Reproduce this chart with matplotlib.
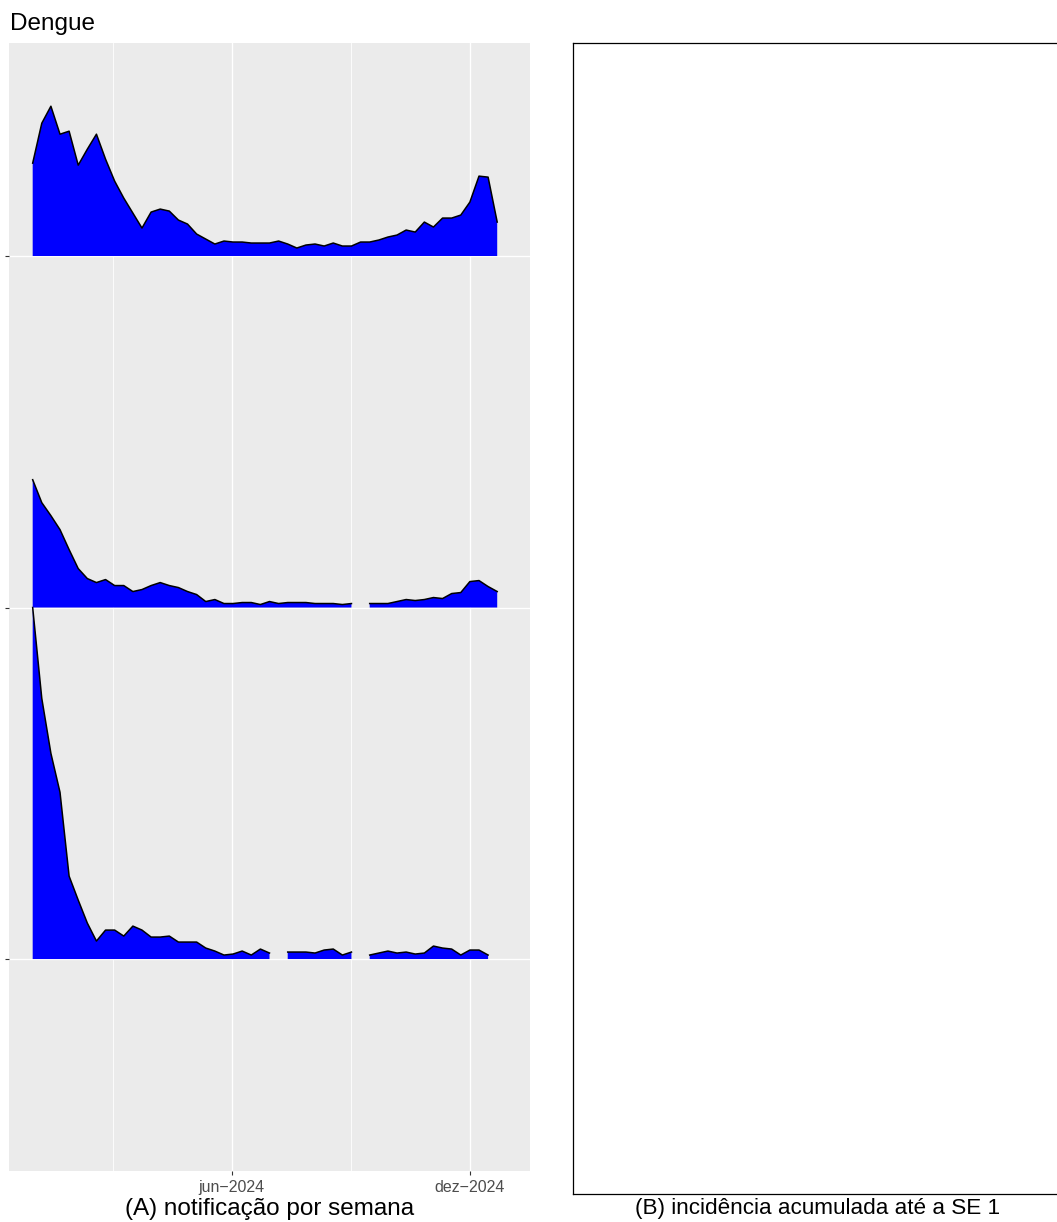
import numpy as np
import pandas as pd
import matplotlib
matplotlib.use("Agg")
import matplotlib.pyplot as plt

plt.rcParams['font.family'] = ['Liberation Sans', 'DejaVu Sans']

nan = np.nan

# semanas epidemiologicas 2024 (inicio no domingo)
semanas = pd.date_range("2023-12-31", periods=53, freq="7D")

# notificacoes por semana (escala relativa)
grupo_3 = [93, 133, 150, 122, 125, 91, 107, 122, 97, 75,
           58, 43, 28, 44, 47, 45, 36, 32, 22, 17,
           12, 15, 14, 14, 13, 13, 13, 15, 12, 8,
           11, 12, 10, 13, 10, 10, 14, 14, 16, 19,
           21, 26, 24, 34, 29, 38, 38, 41, 54, 80,
           79, 34, nan]
grupo_2 = [128, 105, 92, 78, 58, 39, 29, 25, 28, 22,
           22, 16, 18, 22, 25, 22, 20, 16, 13, 6,
           8, 4, 4, 5, 5, 3, 6, 4, 5, 5,
           5, 4, 4, 4, 3, 4, nan, 4, 4, 4,
           6, 8, 7, 8, 10, 9, 14, 15, 26, 27,
           21, 16, nan]
grupo_1 = [352, 261, 206, 167, 83, 59, 36, 18, 29, 29,
           23, 33, 29, 22, 22, 23, 17, 17, 17, 11,
           8, 4, 5, 8, 4, 10, 6, nan, 7, 7,
           7, 6, 9, 10, 4, 7, nan, 4, 6, 8,
           6, 7, 5, 6, 13, 11, 10, 4, 9, 9,
           4, nan, nan]

grupos = ["", "", ""]
series = [grupo_1, grupo_2, grupo_3]

max_all = np.nanmax(np.concatenate([np.array(s, dtype=float) for s in series]))
escala = 1.0

W, H = 1057, 1222
fig = plt.figure(figsize=(W / 100, H / 100), dpi=100)

#Painel A
ax = fig.add_axes([9 / W, 1 - 1171 / H, (530 - 9) / W, (1171 - 43) / H])
ax.set_facecolor("#EBEBEB")
ax.set_axisbelow(True)

for i in reversed(range(len(series))):
    base = i + 1
    y = base + np.array(series[i], dtype=float) / max_all * escala
    z = 2 + (len(series) - i) * 2
    ax.fill_between(semanas, base, y, facecolor="#0000FF", edgecolor="none",
                    linewidth=0, zorder=z)
    ax.plot(semanas, y, color="black", lw=1.1, zorder=z + 1)

span = semanas[-1] - semanas[0]
ax.set_xlim(semanas[0] - 0.05 * span, semanas[-1] + 0.05 * span)
ax.set_ylim(0.397, 3.606)

major = [pd.Timestamp("2024-06-01"), pd.Timestamp("2024-12-01")]
minor = [major[0] - (major[1] - major[0]) / 2, major[0] + (major[1] - major[0]) / 2]
ax.set_xticks(major)
ax.set_xticklabels(["jun\u22122024", "dez\u22122024"])
ax.set_xticks(minor, minor=True)
ax.set_yticks([1, 2, 3])
ax.set_yticklabels(grupos)

ax.grid(which="major", color="white", lw=1.0)
ax.grid(which="minor", axis="x", color="white", lw=0.6)
ax.tick_params(axis="both", which="major", color="#333333", length=3, width=0.8,
               labelsize=11.5, labelcolor="#4D4D4D", pad=3.5)
ax.tick_params(axis="x", which="minor", length=0)
for s in ax.spines.values():
    s.set_visible(False)

#Painel B (vazio)
axb = fig.add_axes([573 / W, 1 - 1194 / H, (1063 - 573) / W, (1194 - 43) / H])
axb.set_xticks([])
axb.set_yticks([])
for s in axb.spines.values():
    s.set_color("black")
    s.set_linewidth(0.9)

fig.text(10 / W, 1 - 30 / H, "Dengue", fontsize=17.5, ha="left", va="baseline")
fig.text(270 / W, 1 - 1215 / H, "(A) notificação por semana", fontsize=17.5,
         ha="center", va="baseline")
fig.text(818 / W, 1 - 1214 / H, "(B) incidência acumulada até a SE 1", fontsize=16.2,
         ha="center", va="baseline")

fig.savefig("out.png", dpi=100)
